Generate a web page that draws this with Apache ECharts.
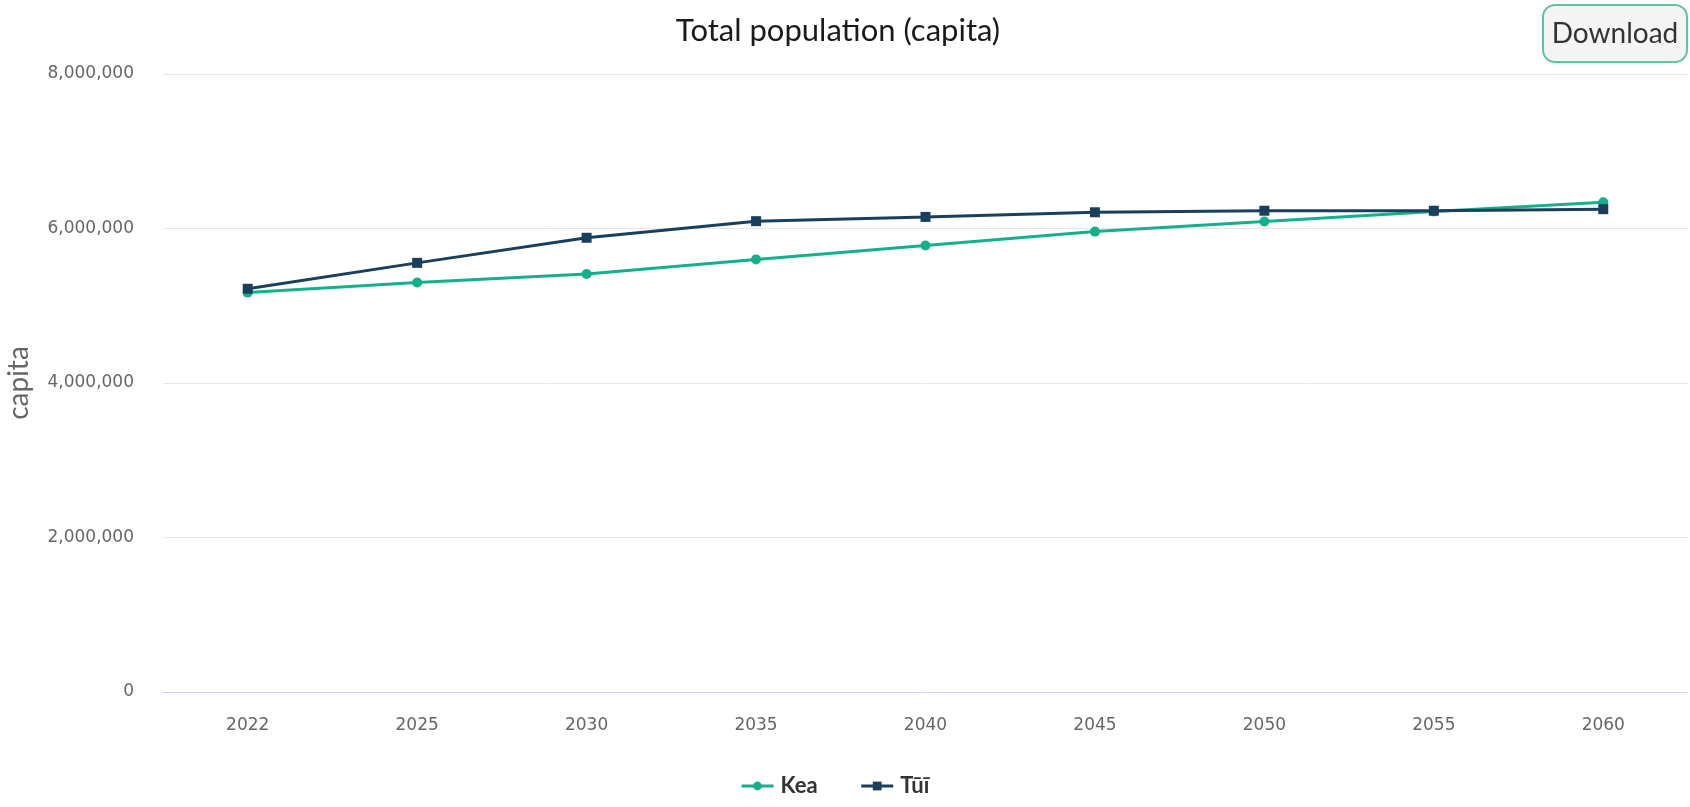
<!DOCTYPE html>
<html>
<head>
<meta charset="utf-8">
<title>Total population (capita)</title>
<script src="https://cdn.jsdelivr.net/npm/echarts@6/dist/echarts.min.js"></script>
<style>
  html, body { margin: 0; padding: 0; background: #ffffff; }
  #chart { width: 1690px; height: 807px; }
</style>
</head>
<body>
<div id="chart"></div>
<script>
// Projection years shown on the category axis
const years = ['2022', '2025', '2030', '2035', '2040', '2045', '2050', '2055', '2060'];

// Total population per scenario (persons)
const keaValues = [5170000, 5300000, 5410000, 5600000, 5780000, 5960000, 6090000, 6220000, 6340000];
const tuiValues = [5220000, 5555000, 5880000, 6095000, 6150000, 6210000, 6230000, 6230000, 6250000];

// Y-axis tick values
const yTicks = [0, 2000000, 4000000, 6000000, 8000000];

const seriesNames = ['Kea', 'Tūī'];
const colors = ['#13b08b', '#1a3f5c'];

const chart = echarts.init(document.getElementById('chart'), null, { renderer: 'canvas' });

const fmt = v => Number(v).toLocaleString('en-US');

chart.setOption({
  animation: false,
  backgroundColor: '#ffffff',
  title: {
    text: 'Total population (capita)',
    left: 833,
    top: 10,
    textAlign: 'center',
    textStyle: {
      fontFamily: 'Lato',
      fontSize: 31,
      fontWeight: 'normal',
      color: '#1a1a1a'
    }
  },
  legend: {
    data: seriesNames,
    bottom: 5,
    left: 735,
    itemWidth: 32,
    itemHeight: 11,
    itemGap: 42,
    lineStyle: { width: 3 },
    textStyle: {
      fontFamily: 'Lato',
      fontSize: 22,
      fontWeight: 'bold',
      color: '#333333',
      padding: [0, 0, 0, 2]
    }
  },
  grid: {
    left: 163,
    right: 2,
    top: 74,
    bottom: 115,
    outerBoundsMode: 'none'
  },
  xAxis: {
    type: 'category',
    data: years,
    boundaryGap: true,
    axisLine: { show: true, lineStyle: { color: '#ccd6eb', width: 1 } },
    axisTick: { show: false },
    axisLabel: {
      margin: 25,
      fontFamily: 'DejaVu Sans',
      fontSize: 17,
      color: '#666666'
    }
  },
  yAxis: {
    type: 'value',
    min: yTicks[0],
    max: yTicks[yTicks.length - 1],
    interval: yTicks[1] - yTicks[0],
    name: 'capita',
    nameLocation: 'middle',
    nameGap: 130,
    nameTextStyle: {
      fontFamily: 'Lato',
      fontSize: 28,
      color: '#666666'
    },
    axisLine: { show: false },
    axisTick: { show: false },
    splitLine: { lineStyle: { color: '#e6e6e6', width: 1 } },
    axisLabel: {
      margin: 29,
      fontFamily: 'DejaVu Sans',
      fontSize: 17,
      color: '#666666',
      formatter: fmt
    }
  },
  series: [
    {
      name: seriesNames[0],
      type: 'line',
      data: keaValues,
      color: colors[0],
      symbol: 'circle',
      symbolSize: 10,
      lineStyle: { width: 3 },
      z: 2
    },
    {
      name: seriesNames[1],
      type: 'line',
      data: tuiValues,
      color: colors[1],
      symbol: 'rect',
      symbolSize: 10,
      lineStyle: { width: 3 },
      z: 3
    }
  ],
  graphic: [
    {
      type: 'group',
      left: 1542,
      top: 4,
      children: [
        {
          type: 'rect',
          shape: { x: 0, y: 0, width: 144, height: 57, r: 12 },
          style: { fill: '#f4f4f4', stroke: '#62c3a2', lineWidth: 2 }
        },
        {
          type: 'text',
          x: 72,
          y: 29,
          style: {
            text: 'Download',
            fontFamily: 'Lato',
            fontSize: 28,
            fill: '#333333',
            align: 'center',
            verticalAlign: 'middle'
          }
        }
      ]
    }
  ]
});
</script>
</body>
</html>
